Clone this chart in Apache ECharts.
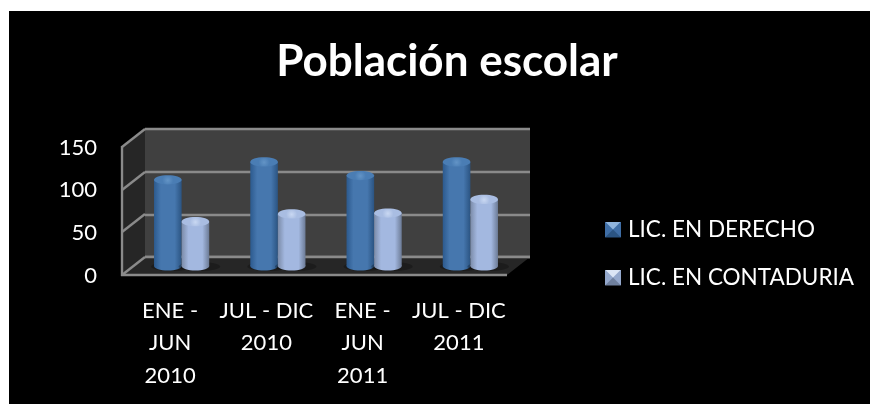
<!DOCTYPE html>
<html><head><meta charset="utf-8">
<script src="https://cdn.jsdelivr.net/npm/echarts@6/dist/echarts.min.js"></script>
<style>
html,body{margin:0;padding:0;background:#fff;width:870px;height:404px;overflow:hidden}
#bg{position:absolute;left:9px;top:11px;right:0;bottom:0;background:#000}
#c{position:absolute;left:0;top:0;width:870px;height:404px}
</style></head><body><div id="bg"></div><div id="c"></div>
<script>
const titleText = 'Población escolar';
const categories = ['ENE -\nJUN\n2010', 'JUL - DIC\n2010', 'ENE -\nJUN\n2011', 'JUL - DIC\n2011'];
const derecho = [101, 122, 106, 122];
const contaduria = [52, 61, 62, 78];
const seriesNames = ['LIC. EN DERECHO', 'LIC. EN CONTADURIA'];
const yTicks = { min: 0, max: 150, interval: 50 };

const FONT = 'Lato';
const GRIDLINE = '#8a8a8a';
const SIDE = '#262626';

const pal = [
  { l: '#2c5a8e', m: '#4677ae', r: '#2b5482', top: '#4a7db4', topC: '#6394c6' },
  { l: '#7b8ba8', m: '#a3b8e0', r: '#6c7b96', top: '#a9bde2', topC: '#c9d8f2' }
];

function cyl(idx) {
  return function (params, api) {
    const side = idx === 0 ? -1 : 1;
    const w = 27.6;
    const ry = 4.6;
    const base = api.coord([api.value(0), 0]);
    const top = api.coord([api.value(0), api.value(1)]);
    const cx = base[0] + side * w / 2;
    const c = pal[idx];
    const grad = new echarts.graphic.LinearGradient(0, 0, 1, 0, [
      { offset: 0, color: c.l }, { offset: 0.25, color: c.m },
      { offset: 0.75, color: c.m }, { offset: 1, color: c.r }
    ]);
    return {
      type: 'group',
      children: [
        { type: 'ellipse', shape: { cx: cx + 4, cy: base[1] + 0.5, rx: w / 2 + 7, ry: ry },
          style: { fill: 'rgba(0,0,0,0.25)' }, z2: 0 },
        { type: 'ellipse', shape: { cx: cx, cy: base[1], rx: w / 2, ry: ry },
          style: { fill: grad }, z2: 1 },
        { type: 'rect', shape: { x: cx - w / 2, y: top[1], width: w, height: base[1] - top[1] },
          style: { fill: grad }, z2: 2 },
        { type: 'ellipse', shape: { cx: cx, cy: top[1], rx: w / 2, ry: ry },
          style: { fill: new echarts.graphic.RadialGradient(0.5, 0.55, 0.6, [
            { offset: 0, color: c.topC }, { offset: 1, color: c.top }]) }, z2: 3 }
      ]
    };
  };
}

function pyramid(main, light, dark) {
  const svg = `<svg xmlns="http://www.w3.org/2000/svg" width="16" height="16">` +
    `<rect width="16" height="16" fill="${main}"/>` +
    `<polygon points="0,0 16,0 8,8" fill="${light}"/>` +
    `<polygon points="0,16 16,16 8,8" fill="${dark}"/>` +
    `</svg>`;
  return 'image://data:image/svg+xml;charset=utf-8,' + encodeURIComponent(svg);
}

const wallAxis = { type: 'value', ...yTicks, axisLine: { show: false }, axisTick: { show: false }, axisLabel: { show: false } };
const hiddenCat = { type: 'category', data: categories, axisLine: { show: false }, axisTick: { show: false }, axisLabel: { show: false } };

function seg(a, b, c, d) {
  return { type: 'line', shape: { x1: a, y1: b, x2: c, y2: d }, style: { stroke: GRIDLINE, lineWidth: 2.4 }, z: 1 };
}

const option = {
  animation: false,
  backgroundColor: 'transparent',
  textStyle: { fontFamily: FONT },
  title: {
    text: titleText, left: 447, top: 37, padding: 0, textAlign: 'center',
    textStyle: { color: '#fff', fontFamily: FONT, fontWeight: 'bold', fontSize: 44, lineHeight: 50 }
  },
  legend: {
    orient: 'vertical', left: 605, top: 218, padding: 0, itemWidth: 16, itemHeight: 16, itemGap: 25,
    textStyle: { color: '#fff', fontFamily: FONT, fontSize: 22.5, padding: [0, 0, 0, 2] },
    data: [
      { name: seriesNames[0], icon: pyramid('#3f6ea6', '#8fb4dd', '#2b5482') },
      { name: seriesNames[1], icon: pyramid('#94a8cc', '#dbe5f5', '#6f809e') }
    ]
  },
  grid: [
    { left: 145, top: 129, width: 385, height: 128, show: true, backgroundColor: '#404040', borderWidth: 0 },
    { left: 122, top: 147.5, width: 385, height: 128 },
    { left: 133.5, top: 138, width: 385, height: 128 }
  ],
  xAxis: [
    { ...hiddenCat, gridIndex: 0 },
    { type: 'category', gridIndex: 1, data: categories,
      axisLine: { show: false }, axisTick: { show: false },
      axisLabel: { color: '#fff', fontFamily: FONT, fontSize: 22, lineHeight: 32.5, margin: 19, interval: 0, width: 96 } },
    { ...hiddenCat, gridIndex: 2 }
  ],
  yAxis: [
    { ...wallAxis, gridIndex: 0, splitLine: { show: true, lineStyle: { color: GRIDLINE, width: 2.4 } } },
    { type: 'value', gridIndex: 1, ...yTicks, splitLine: { show: false },
      axisLine: { show: false }, axisTick: { show: false },
      axisLabel: { color: '#fff', fontFamily: FONT, fontSize: 22, margin: 25 } },
    { ...wallAxis, gridIndex: 2, splitLine: { show: false } }
  ],
  graphic: [
    { type: 'polygon', shape: { points: [[122, 147], [145, 129], [145, 257], [122, 275]] }, style: { fill: SIDE }, z: 1 },
    { type: 'polygon', shape: { points: [[122, 275], [145, 257], [530, 257], [507, 275]] }, style: { fill: SIDE }, z: 1 },
    seg(122, 147, 145, 129), seg(122, 190, 145, 172), seg(122, 232, 145, 214), seg(122, 275, 145, 257),
    seg(122, 146, 122, 276), seg(121, 275, 507, 275), seg(145, 257, 530, 257)
  ],
  series: [
    { type: 'custom', name: seriesNames[0], xAxisIndex: 2, yAxisIndex: 2, z: 5,
      itemStyle: { color: '#4677ae' }, renderItem: cyl(0), encode: { x: 0, y: 1 },
      data: derecho.map((v, i) => [i, v]) },
    { type: 'custom', name: seriesNames[1], xAxisIndex: 2, yAxisIndex: 2, z: 6,
      itemStyle: { color: '#a3b8e0' }, renderItem: cyl(1), encode: { x: 0, y: 1 },
      data: contaduria.map((v, i) => [i, v]) }
  ]
};
const chart = echarts.init(document.getElementById('c'), null, { renderer: 'canvas' });
chart.setOption(option);
</script></body></html>
